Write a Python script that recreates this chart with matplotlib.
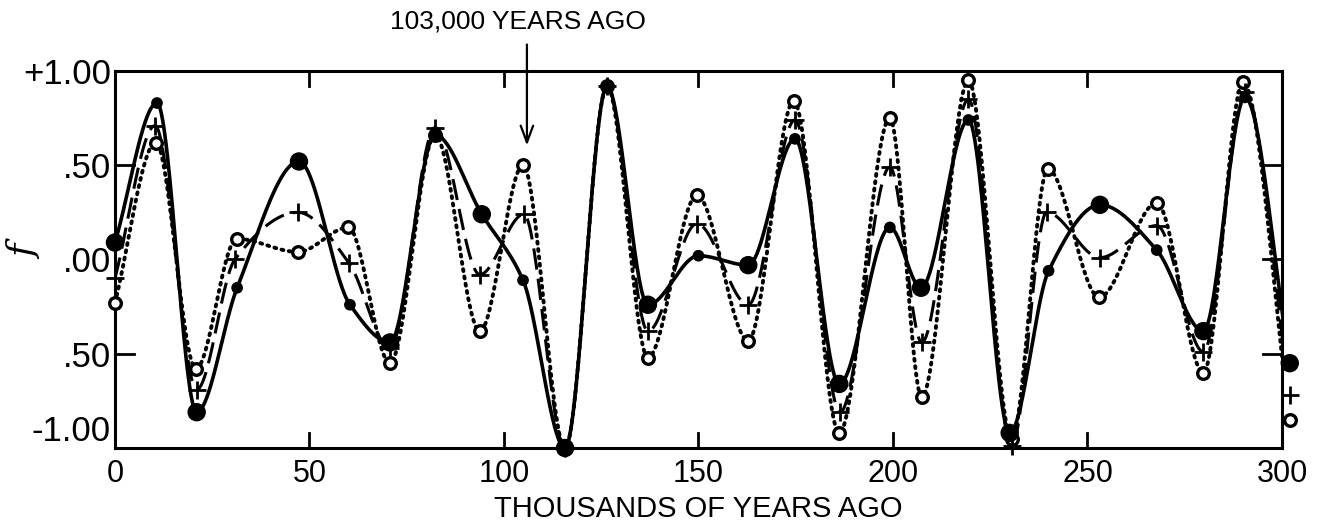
import numpy as np
import matplotlib
matplotlib.use("Agg")
from matplotlib import pyplot as plt
from matplotlib import font_manager

# values (x in thousands of years ago, f)
solid_x = [0, 10.8, 21, 31.4, 47.3, 60.4, 70.7, 82.3, 94.3, 104.9, 115.7, 126.5, 137, 150,
           162.8, 174.8, 186.2, 199.2, 207.2, 219.4, 230, 240, 253.2, 267.8, 279.8, 290.5, 302]
solid_y = [0.09, 0.83, -0.81, -0.15, 0.52, -0.24, -0.44, 0.66, 0.24, -0.11, -1.0, 0.92, -0.24, 0.02,
           -0.03, 0.64, -0.66, 0.17, -0.15, 0.74, -0.92, -0.06, 0.29, 0.05, -0.38, 0.86, -0.55]

dash_x = [0, 10.3, 21, 30.8, 47, 60.2, 70.7, 82.3, 93.8, 105.1, 115.7, 126.5, 137, 149.6,
          162.8, 174.8, 186.4, 199.2, 207.4, 219.4, 230.5, 239.5, 253.2, 267.8, 279.8, 290.5, 302]
dash_y = [-0.10, 0.71, -0.69, 0.0, 0.25, -0.02, -0.47, 0.70, -0.08, 0.24, -1.0, 0.92, -0.38, 0.19,
          -0.24, 0.74, -0.81, 0.49, -0.44, 0.85, -0.99, 0.25, 0.01, 0.18, -0.49, 0.89, -0.72]

dot_x = [0, 10.5, 20.8, 31.3, 47, 60, 70.7, 82.3, 93.8, 104.9, 115.7, 126.5, 137, 149.6,
         162.8, 174.5, 186.2, 199.2, 207.4, 219.4, 230.5, 239.8, 253, 267.8, 279.8, 290, 302]
dot_y = [-0.23, 0.62, -0.58, 0.11, 0.04, 0.17, -0.55, 0.66, -0.38, 0.50, -1.0, 0.92, -0.52, 0.34,
         -0.43, 0.84, -0.92, 0.75, -0.73, 0.95, -0.95, 0.48, -0.20, 0.30, -0.60, 0.94, -0.85]

xticks = [0, 50, 100, 150, 200, 250, 300]
yticks = [-1.0, -0.5, 0.0, 0.5, 1.0]
ytick_labels = ["-1.00", ".50", ".00", ".50", "+1.00"]

# the original lettering is condensed; use a narrow face if one is installed
names = {f.name for f in font_manager.fontManager.ttflist}
narrow = "Liberation Sans Narrow" in names
FONT = ["Liberation Sans Narrow", "DejaVu Sans"] if narrow else ["Liberation Sans", "DejaVu Sans"]
TICK_X = 25 if narrow else 22
TICK_Y = 28 if narrow else 25
LABEL = 24 if narrow else 21


def smooth(x, y, n=1500):
    # monotone cubic (pchip) so the curve turns at the plotted points
    x = np.asarray(x, float)
    y = np.asarray(y, float)
    h = np.diff(x)
    d = np.diff(y) / h
    m = np.zeros_like(y)
    for k in range(1, len(x) - 1):
        if d[k - 1] * d[k] > 0:
            w1 = 2 * h[k] + h[k - 1]
            w2 = h[k] + 2 * h[k - 1]
            m[k] = (w1 + w2) / (w1 / d[k - 1] + w2 / d[k])
    m[0] = d[0]
    m[-1] = d[-1]
    xs = np.linspace(x[0], x[-1], n)
    i = np.clip(np.searchsorted(x, xs) - 1, 0, len(x) - 2)
    t = (xs - x[i]) / h[i]
    h00 = 2 * t**3 - 3 * t**2 + 1
    h10 = t**3 - 2 * t**2 + t
    h01 = -2 * t**3 + 3 * t**2
    h11 = t**3 - t**2
    ys = h00 * y[i] + h10 * h[i] * m[i] + h01 * y[i + 1] + h11 * h[i] * m[i + 1]
    return xs, ys


fig = plt.figure(figsize=(13.2, 5.27), dpi=100)
ax = fig.add_axes([0.0871, 0.1499, 0.8841, 0.7154])

# dotted / open circles
xs, ys = smooth(dot_x, dot_y)
ax.plot(xs, ys, color="black", lw=2.8, linestyle=(0, (0.5, 1.4)), dash_capstyle="round")
ax.scatter(dot_x, dot_y, s=70, facecolor="white", edgecolor="black", linewidth=2.4,
           zorder=4, clip_on=False)

# dashed / plus
xs, ys = smooth(dash_x, dash_y)
ax.plot(xs, ys, color="black", lw=2.2, linestyle=(0, (7, 3)))
ax.scatter(dash_x, dash_y, s=150, marker="+", color="black", linewidth=2.0,
           zorder=5, clip_on=False)

# solid / filled dots
xs, ys = smooth(solid_x, solid_y)
ax.plot(xs, ys, color="black", lw=2.6)
sizes = np.where(np.arange(len(solid_x)) % 2 == 0, 150, 55)
ax.scatter(solid_x, solid_y, s=sizes, color="black", zorder=6, clip_on=False)

ax.set_xlim(0, 300)
ax.set_ylim(-1.0, 1.0)

ax.set_xticks(xticks)
ax.set_xticklabels([str(v) for v in xticks], family=FONT, fontsize=TICK_X)
ax.set_yticks(yticks)
ax.set_yticklabels(ytick_labels, family=FONT, fontsize=TICK_Y)
ax.tick_params(axis="x", length=0, pad=8)
ax.tick_params(axis="y", length=0, pad=3)
ax.get_yticklabels()[0].set_va("bottom")

# inner tick marks like the original drawing
for v in xticks[1:-1]:
    ax.plot([v, v], [-1.0, -0.92], color="black", lw=2)
    ax.plot([v, v], [1.0, 0.92], color="black", lw=2)
for v in [0.5, -0.5]:
    ax.plot([0, 5], [v, v], color="black", lw=2)
for v in [0.5, 0.0, -0.5]:
    ax.plot([295, 300], [v, v], color="black", lw=2)

for s in ax.spines.values():
    s.set_linewidth(2.2)

ax.set_xlabel("THOUSANDS OF YEARS AGO", family=FONT, fontsize=LABEL)
ax.xaxis.set_label_coords(0.5, -0.125)
ax.set_ylabel("f", fontsize=26, style="italic", family="DejaVu Serif")
ax.yaxis.set_label_coords(-0.062, 0.52)

ax.annotate("", xy=(105.9, 0.59), xytext=(105.9, 1.155), annotation_clip=False,
            arrowprops=dict(arrowstyle="->,head_length=1.2,head_width=0.45", color="black", lw=1.6))
ax.text(103.6, 1.26, "103,000 YEARS AGO", ha="center", va="center", family=FONT,
        fontsize=19, clip_on=False)

fig.savefig("out.png", dpi=100)
